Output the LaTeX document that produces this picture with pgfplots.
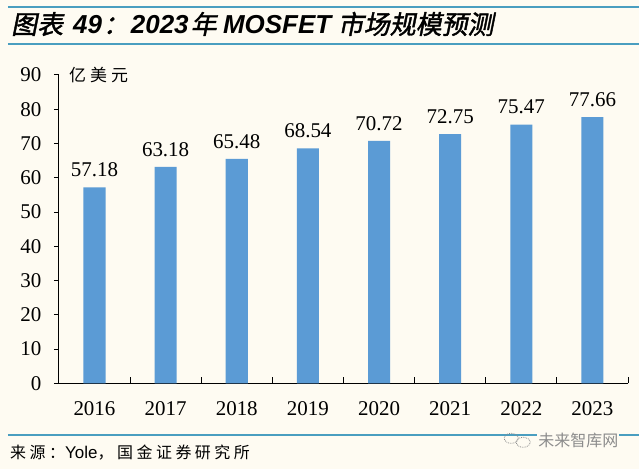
\documentclass[border=0pt]{standalone}
\usepackage{pgfplots}
\pgfplotsset{compat=1.18}
\usepackage{fontspec}
\setmainfont{Liberation Serif}
\newfontfamily\cjk{Noto Sans CJK SC}
\newfontfamily\cjksp{Noto Sans CJK SC}[LetterSpace=22]
\newfontfamily\cjkslant{Noto Sans CJK SC}[FakeSlant=0.2,FakeBold=1.5]
\newfontfamily\arial{Liberation Sans}
\definecolor{bg}{RGB}{254,251,242}
\definecolor{rulec}{RGB}{74,158,192}
\definecolor{barc}{RGB}{91,155,213}
\definecolor{wm}{RGB}{140,140,140}
\begin{document}
\begin{tikzpicture}
\fill[bg] (0,0) rectangle (640bp,470bp);
\draw[rulec, line width=2bp] (8bp,463bp) -- (640bp,463bp);
\draw[rulec, line width=2bp] (8bp,426bp) -- (640bp,426bp);
\node[anchor=west, inner sep=0] at (11bp,446bp) {\fontsize{26bp}{28bp}\selectfont
  {\cjkslant 图表}\hspace{10bp}{\arial\bfseries\itshape 49}\hspace{1bp}{\cjkslant ：}\hspace{2bp}{\arial\bfseries\itshape 2023}\hspace{2bp}{\cjkslant 年} {\arial\bfseries\itshape MOSFET} {\cjkslant 市场规模预测}};
\draw[rulec, line width=2bp] (8bp,34bp) -- (640bp,34bp);
\node[anchor=west, inner sep=0] at (10bp,17bp) {\fontsize{16bp}{18bp}\selectfont{\cjksp 来源：}{\fontsize{17bp}{18bp}\selectfont\arial Yole}{\cjksp ，国金证券研究所}};
\node[anchor=west, inner sep=1bp, fill=bg] at (538bp,29bp) {\fontsize{16bp}{18bp}\selectfont\color{wm}\cjk 未来智库网};
\draw[wm, densely dotted, line width=0.8bp] (512bp,31bp) ellipse (7bp and 5bp);
\draw[wm, densely dotted, line width=0.8bp] (524bp,27bp) ellipse (7bp and 5bp);
\begin{axis}[
  at={(59bp,86bp)}, anchor=south west,
  scale only axis, width=570bp, height=309bp,
  xmin=-0.5, xmax=7.5, ymin=0, ymax=90,
  clip=false,
  axis x line=bottom, axis y line=left,
  axis line style={-, line width=0.9bp, black},
  tick align=outside,
  major tick length=5bp,
  xtick={0,...,7},
  xticklabels={2016,2017,2018,2019,2020,2021,2022,2023},
  major x tick style={draw=none},
  minor xtick={0.5,1.5,...,7.5},
  minor tick length=6bp,
  minor x tick style={yshift=6bp, line width=0.9bp, black},
  ytick={0,10,...,90},
  yticklabels={0,10,20,30,40,50,60,70,80,90},
  major y tick style={line width=0.9bp, black},
  /pgf/number format/assume math mode=true,
  tick label style={font=\rmfamily\fontsize{21bp}{24bp}\selectfont},
  yticklabel style={xshift=-9bp},
  xticklabel style={yshift=-10bp},
  ybar, bar width=0.31,
  nodes near coords,
  nodes near coords style={font=\rmfamily\fontsize{21bp}{24bp}\selectfont, /pgf/number format/fixed, /pgf/number format/fixed zerofill, /pgf/number format/precision=2, /pgf/number format/assume math mode=true, yshift=7bp},
]
\addplot[fill=barc, draw=none] coordinates {(0,57.18) (1,63.18) (2,65.48) (3,68.54) (4,70.72) (5,72.75) (6,75.47) (7,77.66)};
\node[anchor=west, inner sep=0] at (rel axis cs:0,1) [xshift=10bp] {\fontsize{17bp}{20bp}\selectfont\cjk 亿\hspace{4bp}美\hspace{4bp}元};
\end{axis}
\end{tikzpicture}
\end{document}
